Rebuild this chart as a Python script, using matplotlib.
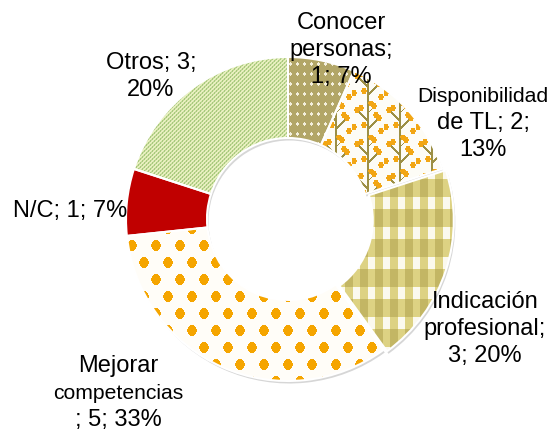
import numpy as np
import matplotlib
matplotlib.use('Agg')
import matplotlib.pyplot as plt
from matplotlib.patches import Wedge

plt.rcParams['font.family'] = ['Liberation Sans', 'DejaVu Sans']

# ---- data ----
categories = ["Conocer personas", "Disponibilidad de TL", "Indicación profesional",
              "Mejorar competencias", "N/C", "Otros"]
values = [1, 2, 3, 5, 1, 3]
total = sum(values)
pcts = [round(v / total * 100) for v in values]

# label line breaks as in the reference (Excel-style "name; value; pct%")
label_lines = [
    ["Conocer", "personas;", f"{values[0]}; {pcts[0]}%"],
    ["Disponibilidad", f"de TL; {values[1]};", f"{pcts[1]}%"],
    ["Indicación", "profesional;", f"{values[2]}; {pcts[2]}%"],
    ["Mejorar", "competencias", f"; {values[3]}; {pcts[3]}%"],
    [f"{categories[4]}; {values[4]}; {pcts[4]}%"],
    [f"{categories[5]}; {values[5]};", f"{pcts[5]}%"],
]
small_lines = {"Disponibilidad", "competencias"}

# ---- layout / style ----
W, H = 556, 431
fig = plt.figure(figsize=(W / 100, H / 100), dpi=100)
ax = fig.add_axes([0, 0, 1, 1])

cx, cy = 288, H - 220
R, ring = 162, 81
explode = [0, 0, 4, 0, 0, 0]

wedges, _ = ax.pie(values, radius=R, center=(cx, cy), startangle=90,
                   counterclock=False, explode=explode,
                   wedgeprops=dict(width=ring, edgecolor='white', linewidth=1.5))
for w in wedges:
    w.set_facecolor('none')
    w.set_zorder(3)

# ---- fill patterns ----
yy, xx = np.mgrid[0:H, 0:W] + 0.5


def hex2rgb(h):
    h = h.lstrip('#')
    return np.array([int(h[i:i + 2], 16) / 255 for i in (0, 2, 4)])


def canvas(color):
    img = np.ones((H, W, 3))
    img[:] = hex2rgb(color)
    return img


# Conocer: olive with small white dots
p0 = canvas('#b2a667')
m = (((xx % 7) - 3.5) / 1.3) ** 2 + (((yy % 10) - 5) / 2.3) ** 2 < 1
p0[m] = hex2rgb('#f3efdc')

# Disponibilidad: white with olive branches and orange berries
p1 = canvas('#fdfcf6')
u = xx % 32
v = yy % 34
stem = (u >= 15) & (u < 17.5)
br1 = (np.abs((u - 16) - (28 - v)) < 1.2) & (u > 16) & (u < 26)
br2 = (np.abs((16 - u) - (20 - v)) < 1.2) & (u < 16) & (u > 6)
br3 = (np.abs((u - 16) - (12 - v)) < 1.0) & (u > 16) & (u < 22)
p1[stem | br1 | br2 | br3] = hex2rgb('#9c8f45')
berries = np.zeros_like(m)
for bx, by in [(27, 17), (24, 14), (5, 9), (9, 7), (22, 5), (19, 2), (2, 26), (29, 30), (12, 24)]:
    berries |= ((u - bx) / 2.6) ** 2 + ((v - by) / 3.2) ** 2 < 1
p1[berries] = hex2rgb('#f2a614')

# Indicación: yellow/olive gingham
p2 = canvas('#fbf9ee')
vs = (xx % 15) < 8.5
hs = (yy % 30) < 18
p2[vs ^ hs] = hex2rgb('#ddd283')
p2[vs & hs] = hex2rgb('#c3b664')

# Mejorar: white with orange staggered dots
p3 = canvas('#fffdf8')
row = np.floor(yy / 17)
xoff = (row % 2) * 12
uu = ((xx + xoff) % 24) - 12
vv = (yy % 17) - 8.5
p3[(uu / 4.6) ** 2 + (vv / 5.6) ** 2 < 1] = hex2rgb('#f5a500')

# N/C: solid red
p4 = canvas('#c00000')

# Otros: fine green cross-hatch
p5 = canvas('#e8efbf')
d1 = ((xx + yy) % 4) < 1.6
d2 = ((xx - yy) % 4) < 1.6
p5[d1] = hex2rgb('#c3da98')
p5[d1 & d2] = hex2rgb('#a9c97e')

patterns = [p0, p1, p2, p3, p4, p5]

for w, pat in zip(wedges, patterns):
    # soft drop shadow
    sh = Wedge((w.center[0] + 1.5, w.center[1] - 2.5), w.r, w.theta1, w.theta2,
               width=w.width, facecolor='#8a8a8a', edgecolor='none', alpha=0.35,
               zorder=0.5)
    ax.add_patch(sh)
    im = ax.imshow(pat, extent=(0, W, 0, H), origin='upper',
                   interpolation='nearest', zorder=1)
    im.set_clip_path(w)

# ---- labels ----
label_x = [341, 483, 485, 118, 70, 151]
label_y0 = [29, 102, 308, 372, 217, 69]
step = 27.0
for lines, lx, ly in zip(label_lines, label_x, label_y0):
    for i, t in enumerate(lines):
        fs = 15.2 if t in small_lines else 17
        ax.text(lx, H - (ly + i * step), t, ha='center', va='baseline',
                fontsize=fs, color='#000000', zorder=5)

ax.set_xlim(0, W)
ax.set_ylim(0, H)
ax.set_aspect('auto')
ax.axis('off')
fig.savefig('out.png', dpi=100, facecolor='white')
